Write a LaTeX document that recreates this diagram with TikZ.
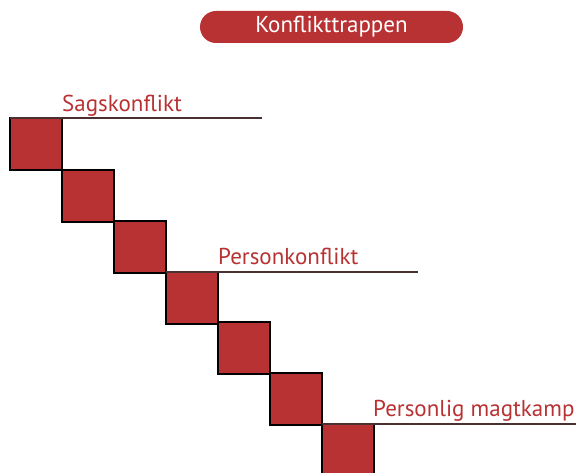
\documentclass[tikz,border=0pt]{standalone}
\usepackage{fontspec}
\setmainfont{PT Sans}
\definecolor{kred}{HTML}{B83234}
\definecolor{kline}{HTML}{4A3030}
\begin{document}
\begin{tikzpicture}[x=1pt,y=-1pt,
  stepsq/.style={draw=black,line width=1.2pt,fill=kred,minimum width=52pt,minimum height=52pt,inner sep=0pt,outer sep=0pt,anchor=north west},
  lvl/.style={text=kred,font=\fontsize{23}{26}\selectfont,inner sep=0pt,anchor=base west},
  lvlline/.style={draw=kline,line width=1.1pt}]
\useasboundingbox (0,0) rectangle (578,473);
\begin{scope}
\clip (0,0) rectangle (578,473);
\node[stepsq] (s1) at (10,118) {};
\node[stepsq] (s2) at (62,170) {};
\node[stepsq] (s3) at (114,221) {};
\node[stepsq] (s4) at (166,272) {};
\node[stepsq] (s5) at (218,322) {};
\node[stepsq] (s6) at (270,373) {};
\node[stepsq] (s7) at (322,424) {};
\end{scope}
\coordinate (e1) at (262,118);
\coordinate (e2) at (418,272);
\coordinate (e3) at (576,424);
\draw[lvlline] (s1.north west) -- (e1);
\draw[lvlline] (s4.north west) -- (e2);
\draw[lvlline] (s7.north west) -- (e3);
\node[lvl] (t1) at (62,112) {Sagskonflikt};
\node[lvl] (t2) at (218,264) {Personkonflikt};
\node[lvl] (t3) at (373,416) {Personlig magtkamp};
\node[fill=kred,rounded corners=16pt,minimum width=263pt,minimum height=32pt,inner sep=0pt,text=white,font=\fontsize{23}{26}\selectfont] (title) at (331.5,27) {Konflikttrappen};
\end{tikzpicture}
\end{document}
